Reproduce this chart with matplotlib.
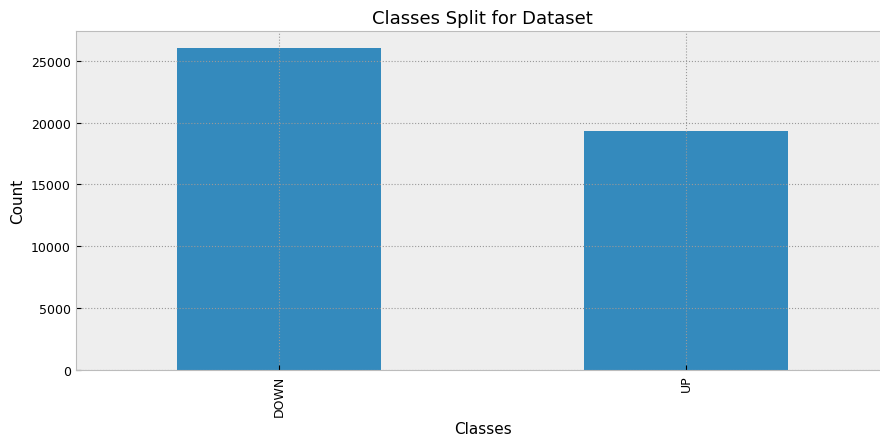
import matplotlib
matplotlib.use("Agg")
import matplotlib.pyplot as plt

# class counts
classes = ["DOWN", "UP"]
counts = [26080, 19290]

plt.style.use("bmh")
fig = plt.figure(figsize=(8.8, 4.39), dpi=100)
# axes run a bit past the right edge, as in the reference
ax = fig.add_axes([0.0858, 0.156, 0.925, 0.77])

x = range(len(classes))
ax.bar(x, counts, width=0.5, color="#348ABD")
ax.set_xticks(list(x))
ax.set_xticklabels(classes, rotation=90)
ax.set_xlim(-0.5, 1.5)
ax.tick_params(labelsize=9)
ax.grid(True, linestyle=":", color="#999999", linewidth=0.8)

ax.set_title("Classes Split for Dataset", fontsize=13)
ax.set_xlabel("Classes", fontsize=11)
ax.set_ylabel("Count", fontsize=11)

plt.savefig("out.png")
